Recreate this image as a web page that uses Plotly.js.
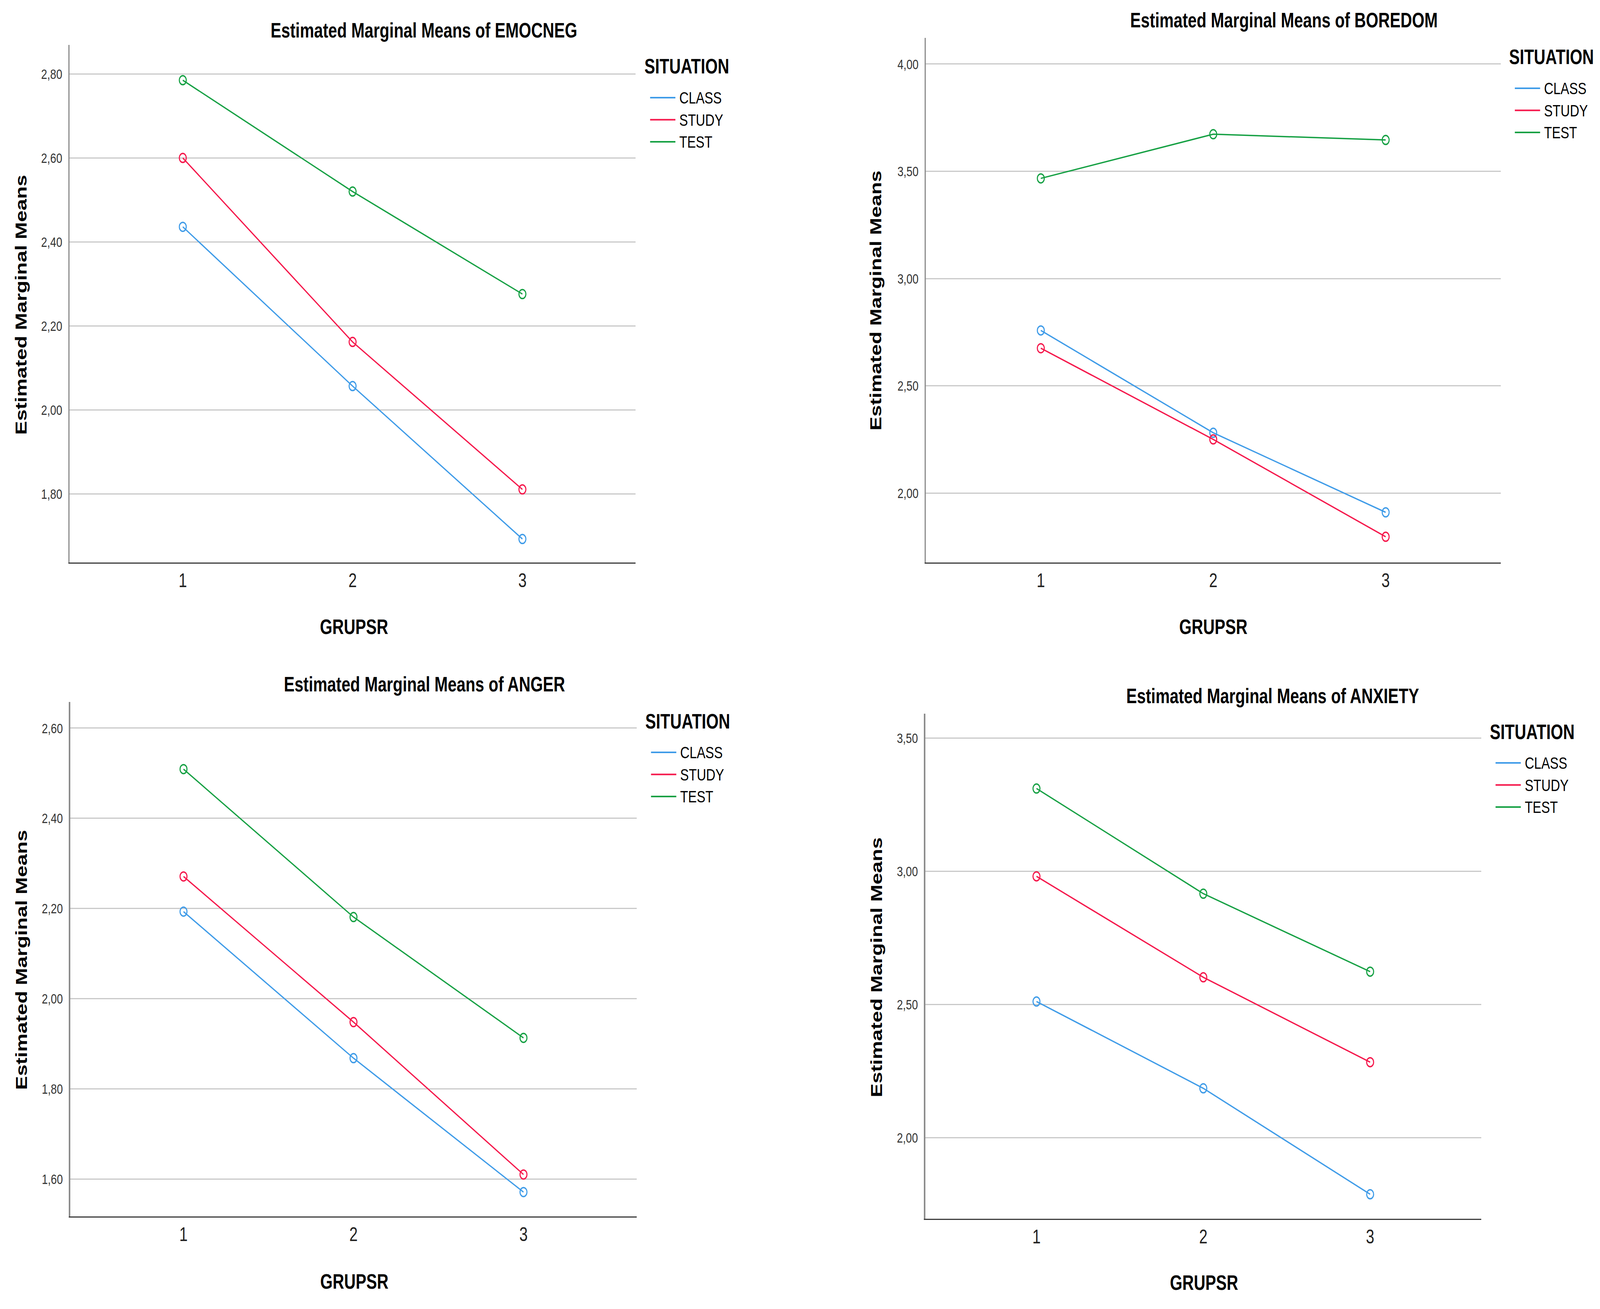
<!DOCTYPE html>
<html><head><meta charset="utf-8">
<script src="https://cdn.plot.ly/plotly-3.0.1.min.js"></script>
<style>html,body{margin:0;padding:0;background:#fff;overflow:hidden}#chart{width:5316px;height:3351px;transform-origin:0 0}</style>
</head><body><div id="chart"></div>
<script>
// ---- data ----
const grupsr = [1, 2, 3];
const xTickLabels = ['1', '2', '3'];
const situations = ['CLASS', 'STUDY', 'TEST'];
const seriesColors = ['#3e9be8', '#f5174b', '#15a043'];

const emocnegClass = [2.436, 2.057, 1.693];
const emocnegStudy = [2.600, 2.162, 1.811];
const emocnegTest  = [2.785, 2.520, 2.276];

const boredomClass = [2.758, 2.281, 1.910];
const boredomStudy = [2.675, 2.250, 1.796];
const boredomTest  = [3.467, 3.673, 3.646];

const angerClass = [2.193, 1.868, 1.571];
const angerStudy = [2.271, 1.948, 1.610];
const angerTest  = [2.509, 2.181, 1.913];

const anxietyClass = [2.511, 2.185, 1.787];
const anxietyStudy = [2.981, 2.602, 2.283];
const anxietyTest  = [3.311, 2.916, 2.623];

const yTicksEmocneg = [1.8, 2.0, 2.2, 2.4, 2.6, 2.8];
const yTicksBoredom = [2.0, 2.5, 3.0, 3.5, 4.0];
const yTicksAnger   = [1.6, 1.8, 2.0, 2.2, 2.4, 2.6];
const yTicksAnxiety = [2.0, 2.5, 3.0, 3.5];

const chartTitles = ['Estimated Marginal Means of EMOCNEG', 'Estimated Marginal Means of BOREDOM',
                     'Estimated Marginal Means of ANGER', 'Estimated Marginal Means of ANXIETY'];
const yTitle = 'Estimated Marginal Means';
const xTitle = 'GRUPSR';
const legendTitle = 'SITUATION';

// ---- layout geometry (pixels) ----
const W = 5316, H = 3351;
const FONT = 'Arial, "Liberation Sans", sans-serif';
const panels = [
  {data: [emocnegClass, emocnegStudy, emocnegTest], ticks: yTicksEmocneg, box: [231, 2112, 115, 1440], yr: [1.637, 2.869],
   title: [1408, 77], ytitle: [70, 780], xtitle: [1176, 1605], legend: [2139, 170]},
  {data: [boredomClass, boredomStudy, boredomTest], ticks: yTicksBoredom, box: [3076, 4986, 97, 1440], yr: [1.676, 4.122],
   title: [4266, 52], ytitle: [2910, 769], xtitle: [4031, 1605], legend: [5012, 146]},
  {data: [angerClass, angerStudy, angerTest], ticks: yTicksAnger, box: [233, 2116, 1797, 3114], yr: [1.517, 2.658],
   title: [1410, 1751], ytitle: [70, 2457], xtitle: [1177, 3280], legend: [2142, 1846]},
  {data: [anxietyClass, anxietyStudy, anxietyTest], ticks: yTicksAnxiety, box: [3074, 4922, 1827, 3120], yr: [1.695, 3.592],
   title: [4228, 1781], ytitle: [2912, 2476], xtitle: [4000, 3283], legend: [4948, 1873]}
];

const px = v => v / W;
const py = v => 1 - v / H;

const traces = [];
const layout = {
  width: W, height: H,
  margin: {l: 0, r: 0, t: 0, b: 0},
  paper_bgcolor: '#ffffff', plot_bgcolor: '#ffffff',
  separators: ',.',
  showlegend: false,
  font: {family: FONT, color: '#000'},
  annotations: [], shapes: []
};

panels.forEach((p, k) => {
  const n = k + 1;
  const xa = 'xaxis' + (n === 1 ? '' : n), ya = 'yaxis' + (n === 1 ? '' : n);
  const xr = 'x' + (n === 1 ? '' : n), yr = 'y' + (n === 1 ? '' : n);
  layout[xa] = {
    domain: [px(p.box[0]), px(p.box[1])], anchor: yr,
    range: [0.333, 3.667], tickvals: grupsr, ticktext: xTickLabels,
    showgrid: false, zeroline: false, ticks: '',
    showline: true, linecolor: '#3c3c3c', linewidth: 3,
    tickfont: {family: FONT, size: 50, color: '#222'}, ticklabelstandoff: 0,
    fixedrange: true
  };
  layout[ya] = {
    domain: [py(p.box[3]), py(p.box[2])], anchor: xr,
    range: p.yr, tickvals: p.ticks, tickformat: '.2f',
    showgrid: true, gridcolor: '#c9c9c9', gridwidth: 3, zeroline: false, ticks: '',
    showline: true, linecolor: '#8c8c8c', linewidth: 4,
    tickfont: {family: FONT, size: 36, color: '#333'}, ticklabelstandoff: 13,
    fixedrange: true
  };
  p.data.forEach((vals, i) => {
    traces.push({
      type: 'scatter', mode: 'lines', x: grupsr, y: vals, xaxis: xr, yaxis: yr,
      name: situations[i], line: {color: seriesColors[i], width: 3.5}, hoverinfo: 'skip'
    });
    traces.push({
      type: 'scatter', mode: 'markers', x: grupsr, y: vals, xaxis: xr, yaxis: yr,
      name: situations[i], showlegend: false,
      marker: {symbol: 'circle-open', size: 23, color: seriesColors[i], line: {width: 3.5, color: seriesColors[i]}},
      hoverinfo: 'skip'
    });
  });
  layout.annotations.push({xref: 'paper', yref: 'paper', x: px(p.title[0]), y: py(p.title[1]),
    xanchor: 'center', yanchor: 'middle', showarrow: false, text: chartTitles[k],
    font: {family: FONT, size: 53, weight: 700, color: '#000'}});
  layout.annotations.push({xref: 'paper', yref: 'paper', x: px(p.ytitle[0]), y: py(p.ytitle[1]),
    xanchor: 'center', yanchor: 'middle', showarrow: false, text: yTitle, textangle: -90,
    font: {family: FONT, size: 53, weight: 700, color: '#000'}});
  layout.annotations.push({xref: 'paper', yref: 'paper', x: px(p.xtitle[0]), y: py(p.xtitle[1]),
    xanchor: 'center', yanchor: 'middle', showarrow: false, text: xTitle,
    font: {family: FONT, size: 53, weight: 700, color: '#000'}});
  const lx = p.legend[0], ly = p.legend[1];
  layout.annotations.push({xref: 'paper', yref: 'paper', x: px(lx), y: py(ly),
    xanchor: 'left', yanchor: 'middle', showarrow: false, text: legendTitle,
    font: {family: FONT, size: 53, weight: 700, color: '#000'}});
  situations.forEach((s, i) => {
    const iy = ly + 80 + i * 56.5;
    layout.shapes.push({type: 'line', xref: 'paper', yref: 'paper',
      x0: px(lx + 21), x1: px(lx + 105), y0: py(iy), y1: py(iy),
      line: {color: seriesColors[i], width: 4}});
    layout.annotations.push({xref: 'paper', yref: 'paper', x: px(lx + 116), y: py(iy),
      xanchor: 'left', yanchor: 'middle', showarrow: false, text: s,
      font: {family: FONT, size: 43, color: '#000'}});
  });
});

// the chart is laid out at 5316x3351; stretch it to fill the actual viewport
function fitToWindow() {
  const vw = window.innerWidth || W, vh = window.innerHeight || H;
  const sx = vw / W, sy = vh / H;
  const el = document.getElementById('chart');
  el.style.transform = (Math.abs(sx - 1) > 0.001 || Math.abs(sy - 1) > 0.001) ? 'scale(' + sx + ',' + sy + ')' : 'none';
  document.body.style.width = vw + 'px';
  document.body.style.height = vh + 'px';
}
fitToWindow();

Plotly.newPlot('chart', traces, layout, {displayModeBar: false, staticPlot: true});
</script>
</body></html>
